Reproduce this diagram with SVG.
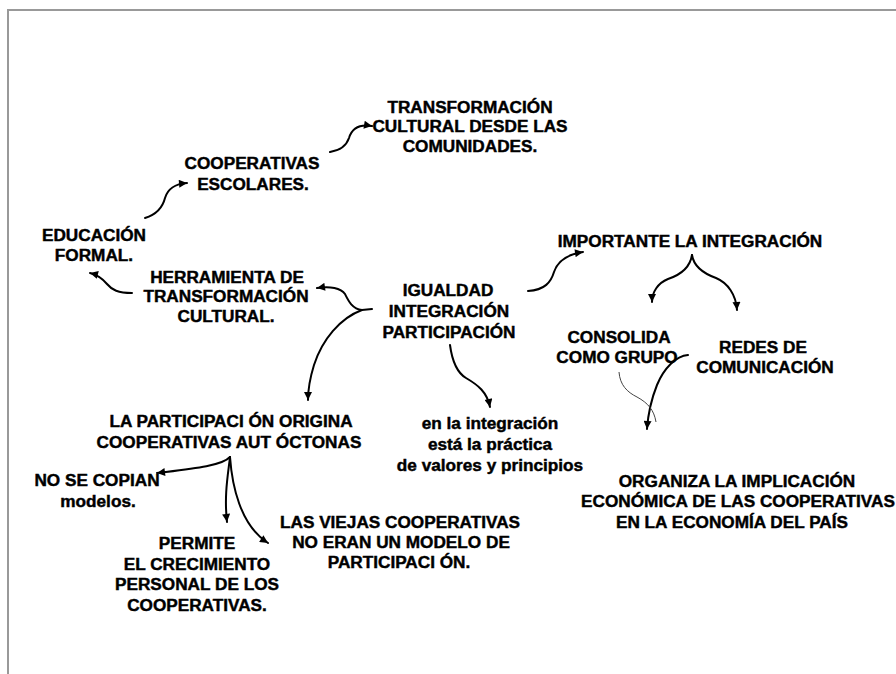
<svg xmlns="http://www.w3.org/2000/svg" width="896" height="674" viewBox="0 0 896 674">
<style>
text{font-family:"Liberation Sans",Arial,sans-serif;font-weight:bold;font-size:17.2px;fill:#000;stroke:#000;stroke-width:0.45;text-anchor:middle}
.c{fill:none;stroke:#000;stroke-width:2;stroke-linecap:round}
.thin{fill:none;stroke:#444;stroke-width:1}
</style>
<defs>
<marker id="ah" viewBox="0 0 10 10" refX="10" refY="5" markerWidth="9" markerHeight="8" markerUnits="userSpaceOnUse" orient="auto">
<path d="M0,0 L10,5 L0,10 z" fill="#000"/>
</marker>
</defs>
<rect width="896" height="674" fill="#fff"/>
<path d="M8,674 V10 H896" fill="none" stroke="#999" stroke-width="2"/>

<g id="n-transformacion-comunidades">
<text x="470" y="113">TRANSFORMACIÓN</text>
<text x="470" y="132">CULTURAL DESDE LAS</text>
<text x="470" y="152">COMUNIDADES.</text>
</g>
<g id="n-cooperativas-escolares">
<text x="252" y="169">COOPERATIVAS</text>
<text x="253" y="190">ESCOLARES.</text>
</g>
<g id="n-educacion-formal">
<text x="94" y="241">EDUCACIÓN</text>
<text x="94" y="261">FORMAL.</text>
</g>
<g id="n-herramienta">
<text x="227" y="283">HERRAMIENTA DE</text>
<text x="226" y="302">TRANSFORMACIÓN</text>
<text x="226" y="322">CULTURAL.</text>
</g>
<g id="n-igualdad">
<text x="448" y="296">IGUALDAD</text>
<text x="449" y="317">INTEGRACIÓN</text>
<text x="449" y="338">PARTICIPACIÓN</text>
</g>
<g id="n-importante">
<text x="690" y="247">IMPORTANTE LA INTEGRACIÓN</text>
</g>
<g id="n-consolida">
<text x="619" y="343">CONSOLIDA</text>
<text x="617" y="363">COMO GRUPO</text>
</g>
<g id="n-redes">
<text x="763" y="353">REDES DE</text>
<text x="765" y="373">COMUNICACIÓN</text>
</g>
<g id="n-organiza">
<text x="737" y="487">ORGANIZA LA IMPLICACIÓN</text>
<text x="738" y="507">ECONÓMICA DE LAS COOPERATIVAS</text>
<text x="732" y="528">EN LA ECONOMÍA DEL PAÍS</text>
</g>
<g id="n-practica">
<text x="490" y="429">en la integración</text>
<text x="490" y="450">está la práctica</text>
<text x="490" y="471">de valores y principios</text>
</g>
<g id="n-participacion-origina">
<text x="231" y="427">LA PARTICIPACI ÓN ORIGINA</text>
<text x="229" y="448">COOPERATIVAS AUT ÓCTONAS</text>
</g>
<g id="n-no-se-copian">
<text x="97" y="486">NO SE COPIAN</text>
<text x="98" y="507">modelos.</text>
</g>
<g id="n-permite">
<text x="197" y="549">PERMITE</text>
<text x="197" y="570">EL CRECIMIENTO</text>
<text x="197" y="590">PERSONAL DE LOS</text>
<text x="197" y="611">COOPERATIVAS.</text>
</g>
<g id="n-viejas">
<text x="400" y="528">LAS VIEJAS COOPERATIVAS</text>
<text x="401" y="548">NO ERAN UN MODELO DE</text>
<text x="399" y="568">PARTICIPACI ÓN.</text>
</g>

<g id="connectors">
<path class="c" marker-end="url(#ah)" d="M330,152 C342,150 347,144 349,138 C352,128 360,124 372,126"/>
<path class="c" marker-end="url(#ah)" d="M145,218 C158,214 163,206 165,198 C168,188 175,184 187,183"/>
<path class="c" marker-end="url(#ah)" d="M132,293 C118,293 112,290 107,284 C102,278 98,275 90,273"/>
<path class="c" marker-end="url(#ah)" d="M372,309 L362,310 C352,309 348,300 345,294 C341,288 330,286 317,288"/>
<path class="c" marker-end="url(#ah)" d="M362,310 C340,318 322,340 314,365 C310,378 308,390 308,400"/>
<path class="c" marker-end="url(#ah)" d="M450,345 C452,360 456,372 466,378 C478,385 487,392 490,407"/>
<path class="c" marker-end="url(#ah)" d="M528,291 C545,290 551,282 554,272 C558,260 570,254 583,252"/>
<path class="c" marker-end="url(#ah)" d="M692,255 C690,268 680,275 668,279 C658,283 652,292 652,302"/>
<path class="c" marker-end="url(#ah)" d="M692,255 C694,268 705,274 716,278 C728,283 736,295 737,310"/>
<path class="c" marker-end="url(#ah)" d="M688,355 C676,356 664,368 657,385 C651,400 648,415 647,429"/>
<path class="thin" d="M619,372 C620,385 627,392 637,397 C648,403 654,410 656,422"/>
<path class="c" marker-end="url(#ah)" d="M230,457 C222,466 190,469 157,473"/>
<path class="c" marker-end="url(#ah)" d="M230,457 C228,475 224,495 227,522"/>
<path class="c" marker-end="url(#ah)" d="M230,457 C232,485 240,525 268,543"/>
</g>
</svg>
